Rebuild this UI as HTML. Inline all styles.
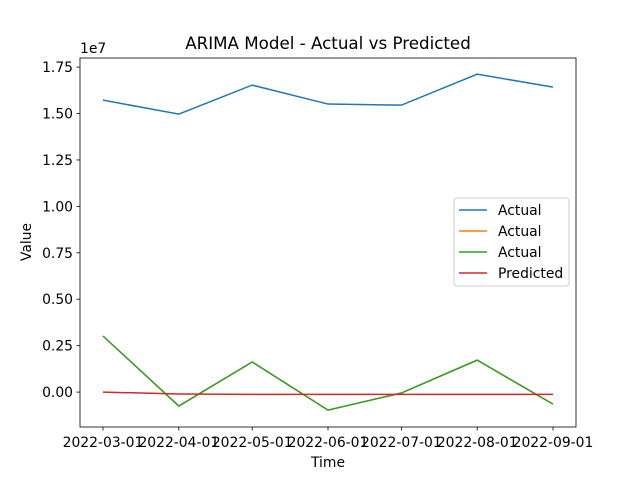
<!DOCTYPE html>
<html><head><meta charset="utf-8"><style>body{margin:0;background:#fff}svg{font-family:"DejaVu Sans","Liberation Sans",sans-serif}</style></head>
<body>
<svg id="c" width="640" height="480"></svg>
<script>
const categories=["2022-03-01","2022-04-01","2022-05-01","2022-06-01","2022-07-01","2022-08-01","2022-09-01"];
const dayOffsets=[0,31,61,92,122,153,184];
const actual1=[1.572,1.497,1.653,1.551,1.545,1.712,1.642];
const actual2=[0.302,-0.075,0.162,-0.097,-0.005,0.172,-0.065];
const actual3=[0.302,-0.075,0.162,-0.097,-0.005,0.172,-0.065];
const predicted=[0.0,-0.01,-0.012,-0.012,-0.012,-0.012,-0.012];
const yTicks=[0,0.25,0.5,0.75,1.0,1.25,1.5,1.75];
const yTickLabels=["0.00","0.25","0.50","0.75","1.00","1.25","1.50","1.75"];
const L=80,R=576,T=58,B=427,ymin=-0.188,ymax=1.799;
const xs=d=>103+d*450/184;
const ys=v=>B-(v-ymin)/(ymax-ymin)*(B-T);
const NS="http://www.w3.org/2000/svg",svg=document.getElementById('c');
function mk(t,a,txt){const e=document.createElementNS(NS,t);for(const k in a)e.setAttribute(k,a[k]);if(txt!==undefined)e.textContent=txt;svg.appendChild(e);return e;}
const series=[[actual1,"#1f77b4"],[actual2,"#ff7f0e"],[actual3,"#2ca02c"],[predicted,"#d62728"]];
series.forEach((s,i)=>{const p=mk('polyline',{points:s[0].map((v,j)=>xs(dayOffsets[j])+','+ys(v)).join(' '),fill:'none',stroke:s[1],'stroke-width':1.5});

});
const fr=mk('rect',{x:L,y:T,width:R-L,height:B-T,fill:'none',stroke:'#000','stroke-width':0.8});

yTicks.forEach((v,i)=>{const y=ys(v);mk('line',{x1:L-3.5,x2:L,y1:y,y2:y,stroke:'#000','stroke-width':0.8});
const t=mk('text',{x:L-7,y:y+5,'text-anchor':'end','font-size':13.9},yTickLabels[i]);
});
categories.forEach((c,i)=>{const x=xs(dayOffsets[i]);mk('line',{x1:x,x2:x,y1:B,y2:B+3.5,stroke:'#000','stroke-width':0.8});
const t=mk('text',{x:x,y:B+20,'text-anchor':'middle','font-size':13.9},c);
});
let e=mk('text',{x:80,y:53,'font-size':13.9},'1e7');
e=mk('text',{x:328,y:49,'text-anchor':'middle','font-size':16.7},'ARIMA Model - Actual vs Predicted');
e=mk('text',{x:328,y:467,'text-anchor':'middle','font-size':13.9},'Time');
e=mk('text',{x:31,y:242,'text-anchor':'middle','font-size':13.9,transform:'rotate(-90 31 242)'},'Value');
e=mk('rect',{x:454,y:198,width:115,height:88,rx:3,fill:'#fff','fill-opacity':0.8,stroke:'#ccc'});
["Actual","Actual","Actual","Predicted"].forEach((n,i)=>{const y=210+i*21;mk('line',{x1:459,x2:487,y1:y,y2:y,stroke:series[i][1],'stroke-width':1.5});
const t=mk('text',{x:498,y:y+5,'font-size':13.9},n);});
</script>
</body></html>
